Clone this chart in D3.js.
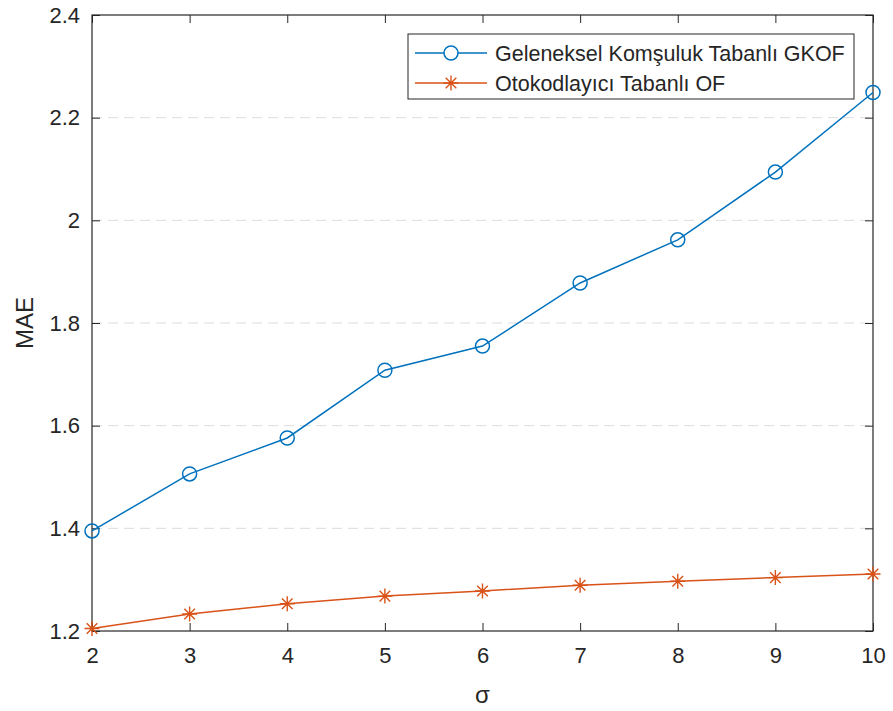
<!DOCTYPE html>
<html>
<head>
<meta charset="utf-8">
<script src="https://cdn.jsdelivr.net/npm/d3@7"></script>
<style>
  html, body { margin: 0; padding: 0; background: #fff; }
  svg { display: block; font-family: "Liberation Sans", Arial, Helvetica, sans-serif; }
</style>
</head>
<body>
<svg id="chart" width="893" height="711"></svg>
<script>
// σ values on the x axis
const sigma = [2, 3, 4, 5, 6, 7, 8, 9, 10];
// MAE of the two methods
const gkofMAE = [1.395, 1.506, 1.576, 1.708, 1.755, 1.878, 1.962, 2.094, 2.249];
const ofMAE   = [1.205, 1.233, 1.253, 1.268, 1.278, 1.289, 1.297, 1.304, 1.311];
const seriesNames = ["Geleneksel Komşuluk Tabanlı GKOF", "Otokodlayıcı Tabanlı OF"];
const xTicks = [2, 3, 4, 5, 6, 7, 8, 9, 10];
const yTicks = [1.2, 1.4, 1.6, 1.8, 2.0, 2.2, 2.4];

const svg = d3.select("#chart");
const m = { left: 92, right: 20, top: 15, bottom: 80 };
const W = 893, H = 711;
const axisColor = "#262626";

const x = d3.scaleLinear().domain([2, 10]).range([m.left, W - m.right]);
const y = d3.scaleLinear().domain([1.2, 2.4]).range([H - m.bottom, m.top]);

// dashed horizontal grid
svg.append("g").selectAll("line")
  .data(yTicks.slice(1, -1))
  .join("line")
  .attr("x1", x.range()[0]).attr("x2", x.range()[1])
  .attr("y1", d => y(d)).attr("y2", d => y(d))
  .attr("stroke", "#dddddd").attr("stroke-width", 1)
  .attr("stroke-dasharray", "10,6");

const tickFmt = d => (d === 2 ? "2" : d3.format(".1f")(d));

function styleAxis(g) {
  g.select(".domain").remove();
  g.selectAll(".tick line").attr("stroke", axisColor).attr("stroke-width", 1);
  g.selectAll(".tick text").attr("fill", "#262626").style("font-size", "22px");
}

// bottom axis
svg.append("g").attr("transform", `translate(0,${y.range()[0]})`)
  .call(d3.axisBottom(x).tickValues(xTicks).tickSizeInner(-8).tickSizeOuter(0).tickPadding(16).tickFormat(d3.format("d")))
  .call(styleAxis);
// top axis (ticks only)
svg.append("g").attr("transform", `translate(0,${y.range()[1]})`)
  .call(d3.axisTop(x).tickValues(xTicks).tickSizeInner(-8).tickSizeOuter(0).tickFormat(""))
  .call(styleAxis);
// left axis
svg.append("g").attr("transform", `translate(${x.range()[0]},0)`)
  .call(d3.axisLeft(y).tickValues(yTicks).tickSizeInner(-8).tickSizeOuter(0).tickPadding(12).tickFormat(tickFmt))
  .call(styleAxis);
// right axis (ticks only)
svg.append("g").attr("transform", `translate(${x.range()[1]},0)`)
  .call(d3.axisRight(y).tickValues(yTicks).tickSizeInner(-8).tickSizeOuter(0).tickFormat(""))
  .call(styleAxis);

// axes box
svg.append("rect")
  .attr("x", x.range()[0]).attr("y", y.range()[1])
  .attr("width", x.range()[1] - x.range()[0]).attr("height", y.range()[0] - y.range()[1])
  .attr("fill", "none").attr("stroke", axisColor).attr("stroke-width", 1.2);

// axis titles
svg.append("text")
  .attr("x", (x.range()[0] + x.range()[1]) / 2).attr("y", 703)
  .attr("text-anchor", "middle").attr("fill", "#262626").style("font-size", "24px")
  .text("σ");
svg.append("text")
  .attr("transform", `translate(33,${(y.range()[0] + y.range()[1]) / 2}) rotate(-90)`)
  .attr("text-anchor", "middle").attr("fill", "#262626").style("font-size", "24px")
  .text("MAE");

const blue = "#0072BD", orange = "#D95319";
const line = d3.line().x((d, i) => x(sigma[i])).y(d => y(d));

function starPath(s) {
  // eight-armed asterisk
  const r = s / 2, k = r * 0.707;
  return `M${-r},0L${r},0M0,${-r}L0,${r}M${-k},${-k}L${k},${k}M${-k},${k}L${k},${-k}`;
}

// series 1: circles
svg.append("path").datum(gkofMAE)
  .attr("d", line).attr("fill", "none").attr("stroke", blue).attr("stroke-width", 1.5);
svg.append("g").selectAll("circle").data(gkofMAE).join("circle")
  .attr("cx", (d, i) => x(sigma[i])).attr("cy", d => y(d)).attr("r", 7)
  .attr("fill", "none").attr("stroke", blue).attr("stroke-width", 1.5);

// series 2: asterisks
svg.append("path").datum(ofMAE)
  .attr("d", line).attr("fill", "none").attr("stroke", orange).attr("stroke-width", 1.5);
svg.append("g").selectAll("path").data(ofMAE).join("path")
  .attr("transform", (d, i) => `translate(${x(sigma[i])},${y(d)})`)
  .attr("d", starPath(15)).attr("fill", "none").attr("stroke", orange).attr("stroke-width", 1.4);

// legend
const lg = svg.append("g");
lg.append("rect").attr("x", 408).attr("y", 34).attr("width", 446).attr("height", 65)
  .attr("fill", "#fff").attr("stroke", axisColor).attr("stroke-width", 1);
const rows = [
  { name: seriesNames[0], color: blue, mark: "circle", yy: 53 },
  { name: seriesNames[1], color: orange, mark: "star", yy: 83 }
];
rows.forEach(r => {
  lg.append("line").attr("x1", 415).attr("x2", 487).attr("y1", r.yy).attr("y2", r.yy)
    .attr("stroke", r.color).attr("stroke-width", 1.5);
  if (r.mark === "circle") {
    lg.append("circle").attr("cx", 451).attr("cy", r.yy).attr("r", 7)
      .attr("fill", "#fff").attr("stroke", r.color).attr("stroke-width", 1.5);
  } else {
    lg.append("path").attr("transform", `translate(451,${r.yy})`).attr("d", starPath(15))
      .attr("fill", "none").attr("stroke", r.color).attr("stroke-width", 1.4);
  }
  lg.append("text").attr("x", 495).attr("y", r.yy).attr("dy", "0.35em")
    .attr("fill", "#262626").style("font-size", "21.5px").text(r.name);
});
</script>
</body>
</html>
